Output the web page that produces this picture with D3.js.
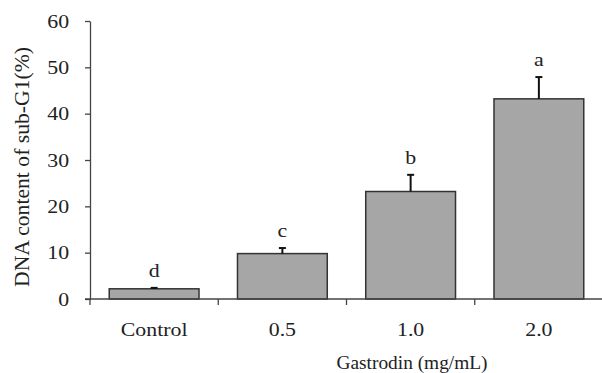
<!DOCTYPE html>
<html>
<head>
<meta charset="utf-8">
<script src="https://cdn.jsdelivr.net/npm/d3@7"></script>
<style>
  body { margin: 0; background: #fff; }
  text { font-family: "Liberation Serif", "Times New Roman", serif; fill: #222; }
</style>
</head>
<body>
<svg id="chart" width="602" height="373"></svg>
<script>
// data
const categories = ['Control', '0.5', '1.0', '2.0'];
const values = [2.2, 9.8, 23.2, 43.2];
const errors = [0.2, 1.2, 3.6, 4.7];
const letters = ['d', 'c', 'b', 'a'];
const yTicks = [0, 10, 20, 30, 40, 50, 60];

const width = 602;
const height = 373;
const margin = {top: 21, right: -1, bottom: 74, left: 90};
const stretch = 1.15; // glyphs in the picture look a bit wide

const svg = d3.select('#chart');

const x = d3.scaleBand()
  .domain(categories)
  .range([margin.left, width - margin.right])
  .paddingInner(0.3)
  .paddingOuter(0.15);

const y = d3.scaleLinear()
  .domain([0, 60])
  .range([height - margin.bottom, margin.top]);

const axisColor = '#444';

// y axis
const gy = svg.append('g')
  .attr('transform', `translate(${margin.left},0)`)
  .call(d3.axisLeft(y).tickValues(yTicks).tickSize(5).tickPadding(11).tickSizeOuter(0));
gy.select('.domain').attr('stroke', axisColor).attr('stroke-width', 1.3);
gy.selectAll('.tick line').attr('stroke', axisColor).attr('stroke-width', 1.3);
gy.selectAll('.tick text')
  .style('font-size', '19px')
  .attr('transform', function() {
    const tx = +d3.select(this).attr('x');
    return `translate(${tx * (stretch - 1)},0) scale(${stretch},1)`;
  });

// bars
const bars = svg.append('g');
bars.selectAll('rect')
  .data(values)
  .join('rect')
  .attr('x', (d, i) => x(categories[i]))
  .attr('y', d => y(d))
  .attr('width', x.bandwidth())
  .attr('height', d => y(0) - y(d))
  .attr('fill', '#a6a6a6')
  .attr('stroke', '#333')
  .attr('stroke-width', 1.5);

// error bars
const capW = 7;
const err = svg.append('g').attr('stroke', '#111').attr('stroke-width', 2);
values.forEach((v, i) => {
  const cx = x(categories[i]) + x.bandwidth() / 2;
  err.append('line')
    .attr('x1', cx).attr('x2', cx)
    .attr('y1', y(v)).attr('y2', y(v + errors[i]));
  err.append('line')
    .attr('x1', cx - capW / 2).attr('x2', cx + capW / 2)
    .attr('y1', y(v + errors[i])).attr('y2', y(v + errors[i]));
});

// significance letters
svg.append('g').selectAll('text')
  .data(letters)
  .join('text')
  .attr('text-anchor', 'middle')
  .style('font-size', '19px')
  .attr('transform', (d, i) => {
    const cx = x(categories[i]) + x.bandwidth() / 2;
    return `translate(${cx},${y(values[i] + errors[i]) - 11}) scale(${stretch},1)`;
  })
  .text(d => d);

// x axis line and boundary ticks
const baseY = y(0);
const gx = svg.append('g');
gx.append('line')
  .attr('x1', margin.left - 5).attr('x2', width)
  .attr('y1', baseY).attr('y2', baseY)
  .attr('stroke', axisColor).attr('stroke-width', 1.3);
const gap = (x.step() - x.bandwidth()) / 2;
gx.selectAll('.bound')
  .data(categories)
  .join('line')
  .attr('class', 'bound')
  .attr('x1', d => x(d) - gap).attr('x2', d => x(d) - gap)
  .attr('y1', baseY).attr('y2', baseY + 6)
  .attr('stroke', axisColor).attr('stroke-width', 1.3);

// category labels
gx.selectAll('.cat')
  .data(categories)
  .join('text')
  .attr('class', 'cat')
  .attr('text-anchor', 'middle')
  .style('font-size', '19px')
  .attr('transform', d => `translate(${x(d) + x.bandwidth() / 2},${baseY + 37}) scale(${stretch},1)`)
  .text(d => d);

// axis titles
svg.append('text')
  .attr('text-anchor', 'middle')
  .style('font-size', '18px')
  .attr('transform', `translate(412,369)`)
  .attr('textLength', 151)
  .attr('lengthAdjust', 'spacingAndGlyphs')
  .text('Gastrodin (mg/mL)');

svg.append('text')
  .attr('text-anchor', 'middle')
  .style('font-size', '20px')
  .attr('transform', `translate(29,167) rotate(-90)`)
  .attr('textLength', 240)
  .attr('lengthAdjust', 'spacingAndGlyphs')
  .text('DNA content of sub-G1(%)');
</script>
</body>
</html>
